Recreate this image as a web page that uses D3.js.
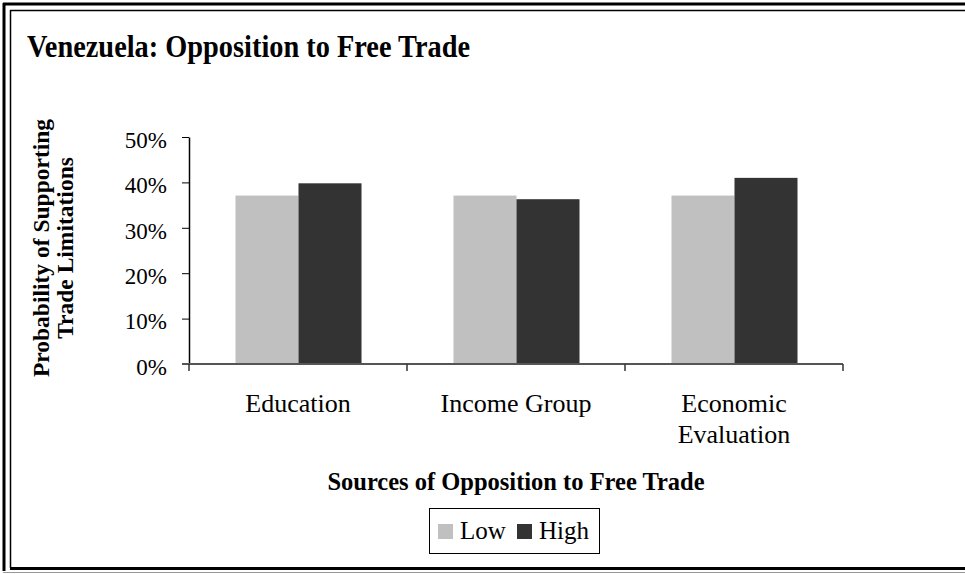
<!DOCTYPE html>
<html>
<head>
<meta charset="utf-8">
<script src="https://cdn.jsdelivr.net/npm/d3@7/dist/d3.min.js"></script>
<style>
  html, body { margin: 0; padding: 0; background: #fff; }
  svg { display: block; font-family: "Liberation Serif", "Times New Roman", serif; }
</style>
</head>
<body>
<svg id="chart" width="965" height="574"></svg>
<script>
// Source categories (the third one is drawn on two lines)
const categories = ["Education", "Income Group", "Economic Evaluation"];
const categoryLines = [["Education"], ["Income Group"], ["Economic", "Evaluation"]];
const seriesNames = ["Low", "High"];
const lowValues = [0.371, 0.371, 0.371];
const highValues = [0.398, 0.363, 0.410];
const yTicks = [0, 0.1, 0.2, 0.3, 0.4, 0.5];
const seriesColors = ["#c0c0c0", "#333333"];

const svg = d3.select("#chart");

// double frame around the whole chart
const frame = svg.append("g");
frame.append("line").attr("x1", 3).attr("x2", 965).attr("y1", 4).attr("y2", 4).attr("stroke", "#000").attr("stroke-width", 3);
frame.append("line").attr("x1", 4).attr("x2", 4).attr("y1", 3).attr("y2", 571).attr("stroke", "#000").attr("stroke-width", 3);
frame.append("line").attr("x1", 10).attr("x2", 965).attr("y1", 10.5).attr("y2", 10.5).attr("stroke", "#000").attr("stroke-width", 1.5);
frame.append("line").attr("x1", 10.5).attr("x2", 10.5).attr("y1", 10).attr("y2", 568).attr("stroke", "#000").attr("stroke-width", 1.5);
frame.append("line").attr("x1", 10).attr("x2", 965).attr("y1", 568.5).attr("y2", 568.5).attr("stroke", "#000").attr("stroke-width", 3);
frame.append("line").attr("x1", 3).attr("x2", 965).attr("y1", 572.5).attr("y2", 572.5).attr("stroke", "#999").attr("stroke-width", 1);

// title
svg.append("text")
  .attr("x", 27).attr("y", 57)
  .attr("font-size", 31).attr("font-weight", "bold")
  .attr("textLength", 443).attr("lengthAdjust", "spacingAndGlyphs")
  .text("Venezuela: Opposition to Free Trade");

const plot = { left: 189, right: 843, top: 137, bottom: 364 };

const x0 = d3.scaleBand().domain(categories).range([plot.left, plot.right]).paddingInner(0).paddingOuter(0);
const x1 = d3.scaleBand().domain(seriesNames).range([46.5, 46.5 + 126]);
const y = d3.scaleLinear().domain([0, 0.5]).range([plot.bottom, plot.top]);

const data = categories.map((c, i) => ({ cat: c, vals: [lowValues[i], highValues[i]] }));

// bars
const groups = svg.append("g").selectAll("g").data(data).join("g")
  .attr("transform", d => `translate(${x0(d.cat)},0)`);
groups.selectAll("rect").data(d => d.vals.map((v, j) => ({ v, s: seriesNames[j], j })))
  .join("rect")
  .attr("x", d => x1(d.s))
  .attr("width", x1.bandwidth())
  .attr("y", d => y(d.v))
  .attr("height", d => y(0) - y(d.v))
  .attr("fill", d => seriesColors[d.j]);

// y axis
const yAxis = svg.append("g")
  .attr("transform", `translate(${plot.left},0)`)
  .call(d3.axisLeft(y).tickValues(yTicks).tickFormat(d3.format(".0%")).tickSize(7).tickSizeOuter(0));
yAxis.select(".domain").attr("stroke", "#000").attr("stroke-width", 1.5);
yAxis.selectAll(".tick line").attr("stroke", "#000");
yAxis.selectAll(".tick text")
  .attr("font-size", 23).attr("font-family", "Liberation Serif").attr("fill", "#000")
  .attr("x", -22).attr("dy", "0.45em");

// x axis
const xAxis = svg.append("g")
  .attr("transform", `translate(0,${plot.bottom})`);
xAxis.append("line").attr("x1", plot.left - 7).attr("x2", plot.right).attr("y1", 0).attr("y2", 0)
  .attr("stroke", "#555").attr("stroke-width", 2);
const edges = [plot.left].concat(categories.map(c => x0(c) + x0.bandwidth()));
xAxis.selectAll("line.tk").data(edges).join("line").attr("class", "tk")
  .attr("x1", d => d).attr("x2", d => d).attr("y1", 0).attr("y2", 7)
  .attr("stroke", "#333").attr("stroke-width", 1.5);

// category labels
const catLabels = svg.append("g").selectAll("text").data(categories).join("text")
  .attr("x", d => x0(d) + x0.bandwidth() / 2)
  .attr("y", 412)
  .attr("text-anchor", "middle")
  .attr("font-size", 26);
catLabels.each(function(d, i) {
  d3.select(this).selectAll("tspan").data(categoryLines[i]).join("tspan")
    .attr("x", x0(d) + x0.bandwidth() / 2)
    .attr("dy", (t, k) => k === 0 ? 0 : 31)
    .text(t => t);
});

// y axis title
const yTitle = svg.append("text")
  .attr("transform", "translate(49,248) rotate(-90)")
  .attr("text-anchor", "middle")
  .attr("font-size", 23.5).attr("font-weight", "bold");
yTitle.append("tspan").attr("x", 0).attr("dy", 0).text("Probability of Supporting");
yTitle.append("tspan").attr("x", 0).attr("dy", 24).text("Trade Limitations");

// x axis title
svg.append("text")
  .attr("x", 516).attr("y", 490)
  .attr("text-anchor", "middle")
  .attr("font-size", 24.5).attr("font-weight", "bold")
  .text("Sources of Opposition to Free Trade");

// legend
const legend = svg.append("g");
legend.append("rect").attr("x", 429.5).attr("y", 508.5).attr("width", 170).attr("height", 45)
  .attr("fill", "#fff").attr("stroke", "#000").attr("stroke-width", 1);
const legendX = [438, 517];
seriesNames.forEach((s, i) => {
  legend.append("rect").attr("x", legendX[i]).attr("y", 524).attr("width", 15).attr("height", 15)
    .attr("fill", seriesColors[i]);
  legend.append("text").attr("x", legendX[i] + 22).attr("y", 539)
    .attr("font-size", 25).text(s);
});
</script>
</body>
</html>
